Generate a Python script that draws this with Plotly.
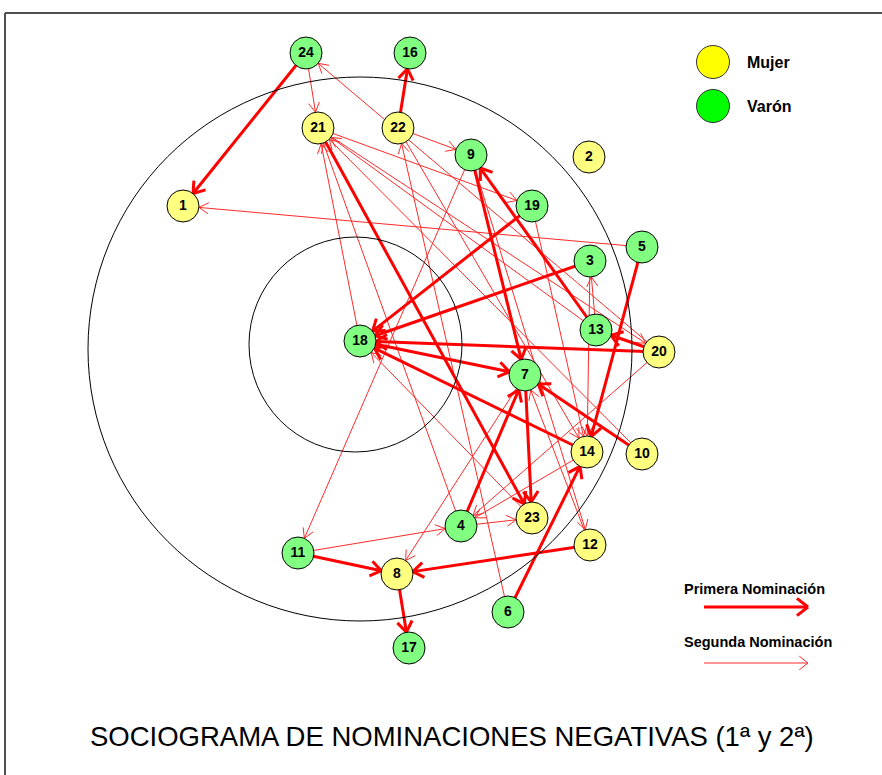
import numpy as np
import plotly.graph_objects as go

# ---------------- data ----------------
node_ids = [24, 16, 21, 22, 9, 2, 1, 19, 5, 3, 13, 20, 18, 7, 14, 10, 4, 23, 11, 12, 8, 6, 17]
node_x   = [306, 410, 318, 398, 471, 589, 183, 532, 642, 590, 596, 659, 360, 525, 587, 642, 461, 532, 298, 590, 397, 508, 409]
node_y   = [53, 53, 128, 128, 155, 157, 206, 206, 247, 261, 330, 352, 341, 375, 452, 454, 526, 518, 553, 545, 574, 612, 648]
node_sex = ["V", "V", "M", "M", "V", "M", "M", "V", "V", "V", "V", "M", "V", "V", "M", "M", "V", "M", "V", "M", "M", "V", "V"]

# first nominations (thick)
first_from = [24, 22, 19, 3, 20, 14, 18, 10, 9, 13, 5, 6, 7, 21, 4, 11, 12, 8, 20]
first_to   = [1, 16, 18, 18, 18, 18, 7, 7, 7, 9, 14, 14, 23, 23, 7, 8, 8, 17, 13]
# second nominations (thin)
second_from = [24, 22, 21, 5, 20, 6, 9, 9, 13, 3, 19, 22, 14, 4, 11, 18, 23, 10, 7, 12, 20, 21, 4, 13]
second_to   = [21, 9, 19, 1, 24, 22, 12, 11, 3, 14, 14, 14, 4, 21, 4, 21, 18, 21, 8, 7, 4, 20, 23, 21]

legend_sex = ["Mujer", "Varón"]
legend_nom = ["Primera Nominación", "Segunda Nominación"]
title_text = "SOCIOGRAMA DE NOMINACIONES NEGATIVAS (1ª y 2ª)"

# ---------------- helpers ----------------
pos = {n: (x, y) for n, x, y in zip(node_ids, node_x, node_y)}
R = 16


def arrow_segments(p0, p1, head_len, ang_deg, shrink):
    p0 = np.array(p0, float)
    p1 = np.array(p1, float)
    d = p1 - p0
    u = d / np.linalg.norm(d)
    tip = p1 - u * shrink
    xs, ys = [p0[0], tip[0], None], [p0[1], tip[1], None]
    a = np.radians(ang_deg)
    for s in (1, -1):
        c, sn = np.cos(s * a), np.sin(s * a)
        w = np.array([u[0] * c - u[1] * sn, u[0] * sn + u[1] * c])
        e = tip - w * head_len
        xs += [tip[0], e[0], None]
        ys += [tip[1], e[1], None]
    return xs, ys


def edges_xy(froms, tos, head_len, ang):
    X, Y = [], []
    for a, b in zip(froms, tos):
        xs, ys = arrow_segments(pos[a], pos[b], head_len, ang, R)
        X += xs
        Y += ys
    return X, Y


fig = go.Figure()

# circles
fig.add_shape(type="circle", x0=88, x1=632, y0=77, y1=621, line=dict(color="black", width=1))
fig.add_shape(type="circle", x0=249, x1=462, y0=237, y1=452, line=dict(color="black", width=1))

# frame
fig.add_shape(type="line", x0=5, x1=882, y0=13, y1=13, line=dict(color="#505050", width=2))
fig.add_shape(type="line", x0=5, x1=5, y0=13, y1=775, line=dict(color="#505050", width=2))

# thin edges
X2, Y2 = edges_xy(second_from, second_to, 11, 30)
fig.add_trace(go.Scatter(x=X2, y=Y2, mode="lines", line=dict(color="#ff2a2a", width=1),
                         hoverinfo="skip", showlegend=False))
# thick edges
X1, Y1 = edges_xy(first_from, first_to, 13, 35)
fig.add_trace(go.Scatter(x=X1, y=Y1, mode="lines", line=dict(color="#ff0000", width=3),
                         hoverinfo="skip", showlegend=False))

# nodes
colors = ["#ffff80" if s == "M" else "#80ff80" for s in node_sex]
fig.add_trace(go.Scatter(
    x=node_x, y=node_y, mode="markers+text",
    marker=dict(size=2 * R, color=colors, line=dict(color="black", width=1)),
    text=[f"<b>{n}</b>" for n in node_ids], textposition="middle center",
    textfont=dict(family="Liberation Sans, Arial", size=14, color="black"),
    hoverinfo="skip", showlegend=False))

# legend: sex
fig.add_trace(go.Scatter(
    x=[713, 713], y=[62, 106], mode="markers",
    marker=dict(size=33, color=["#ffff00", "#00ff00"], line=dict(color="#333", width=1)),
    hoverinfo="skip", showlegend=False))
for lbl, yy in zip(legend_sex, [62, 106]):
    fig.add_annotation(x=745, y=yy, text=f"<b>{lbl}</b>", showarrow=False, xanchor="left",
                       yanchor="middle", font=dict(family="Liberation Sans, Arial", size=16, color="black"))

# legend: nominations
for lbl, ty, ay, hl, w, col in zip(legend_nom, [589, 642], [607, 663], [14, 11], [3, 1], ["#ff0000", "#ff2a2a"]):
    fig.add_annotation(x=682, y=ty, text=f"<b>{lbl}</b>", showarrow=False, xanchor="left",
                       yanchor="middle", font=dict(family="Liberation Sans, Arial", size=14.5, color="black"))
    xs, ys = arrow_segments((704, ay), (808, ay), hl, 38, 0)
    fig.add_trace(go.Scatter(x=xs, y=ys, mode="lines", line=dict(color=col, width=w),
                             hoverinfo="skip", showlegend=False))

# title
fig.add_annotation(x=452, y=736, text=title_text, showarrow=False, xanchor="center", yanchor="middle",
                   font=dict(family="Liberation Sans, Arial", size=27.5, color="black"))

fig.update_layout(
    width=882, height=775, margin=dict(l=0, r=0, t=0, b=0),
    paper_bgcolor="white", plot_bgcolor="white", hovermode=False,
    xaxis=dict(range=[0, 882], visible=False, fixedrange=True),
    yaxis=dict(range=[775, 0], visible=False, fixedrange=True),
)
fig.write_html("out.html", config={"displayModeBar": False, "staticPlot": True},
               post_script="document.body.style.margin='0px';document.body.style.overflow='hidden';")
